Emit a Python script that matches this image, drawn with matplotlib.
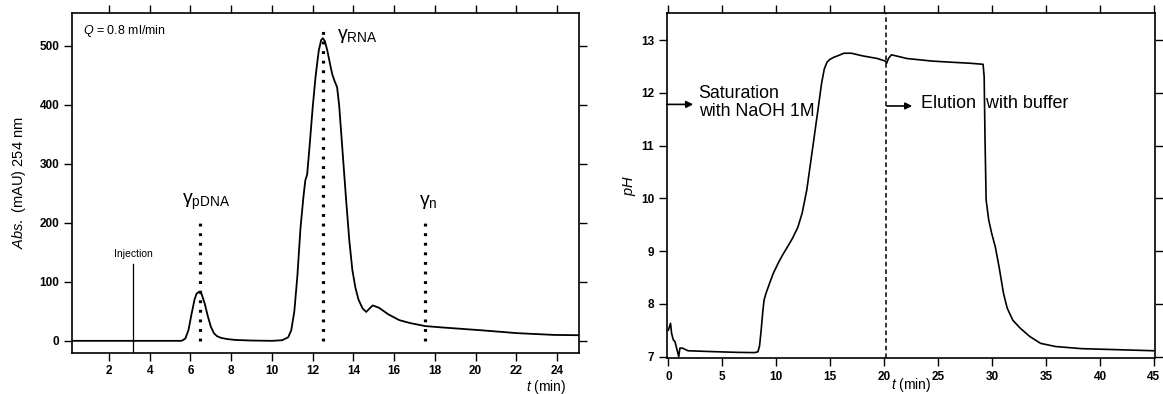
import numpy as np
import matplotlib
matplotlib.use('Agg')
import matplotlib.pyplot as plt

plt.rcParams['font.family'] = ['Liberation Sans', 'DejaVu Sans']
plt.rcParams['mathtext.fontset'] = 'custom'
plt.rcParams['mathtext.rm'] = 'Liberation Sans'
plt.rcParams['mathtext.it'] = 'Liberation Sans:italic'
plt.rcParams['mathtext.bf'] = 'Liberation Sans:bold'

# chromatogram (left panel), t in min, absorbance in mAU
t_abs = [0.2, 3.0, 5.0, 5.5, 5.6, 5.75, 5.9, 6.05, 6.2, 6.3, 6.42, 6.55, 6.7, 6.85, 7.0,
         7.15, 7.3, 7.5, 7.8, 8.2, 9.0, 10.0, 10.5, 10.8, 10.95, 11.1, 11.25, 11.4, 11.55,
         11.64, 11.73, 11.85, 12.0, 12.15, 12.3, 12.42, 12.5, 12.6, 12.72, 12.85, 12.96,
         13.08, 13.2, 13.3, 13.45, 13.63, 13.8, 13.95, 14.1, 14.25, 14.45, 14.63, 14.8,
         14.95, 15.26, 15.71, 16.26, 16.8, 17.53, 18.43, 20.24, 22.05, 23.87, 25.1]
abs_mau = [0, 0, 0, 0, 0.5, 4, 18, 45, 70, 80, 83, 79, 63, 42, 24,
           13, 8, 5, 3, 1.5, 0.5, 0, 1, 6, 18, 50, 110, 190, 245,
           272, 282, 330, 395, 450, 492, 510, 513, 508, 492, 470, 452,
           440, 430, 400, 330, 245, 170, 120, 90, 70, 55, 49, 55,
           60, 56, 45, 35, 30, 25, 22.5, 18, 13, 10, 9.5]

# pH trace (right panel)
t_ph = [0.0, 0.2, 0.3, 0.45, 0.62, 0.8, 0.96, 1.07, 1.3, 1.82, 3.9, 6.3, 8.0, 8.3, 8.45,
        8.6, 8.75, 8.87, 9.05, 9.4, 9.73, 10.2, 10.6, 11.1, 11.5, 12.0, 12.4, 12.83, 13.35,
        13.86, 14.2, 14.45, 14.7, 14.95, 15.3, 15.8, 16.27, 16.96, 18.0, 19.37, 20.12,
        20.23, 20.4, 20.67, 21.1, 22.1, 24.5, 26.2, 27.97, 29.17, 29.27, 29.34, 29.45,
        29.69, 29.96, 30.3, 30.65, 31.06, 31.4, 31.92, 32.6, 33.5, 34.5, 35.9, 38.3,
        41.7, 45.0]
ph = [7.5, 7.63, 7.44, 7.32, 7.28, 7.13, 7.0, 7.16, 7.16, 7.11, 7.095, 7.08, 7.075, 7.09, 7.2,
      7.5, 7.85, 8.07, 8.2, 8.4, 8.58, 8.78, 8.93, 9.1, 9.24, 9.45, 9.72, 10.16, 10.92,
      11.67, 12.18, 12.45, 12.58, 12.63, 12.67, 12.71, 12.75, 12.75, 12.7, 12.65, 12.6,
      12.56, 12.65, 12.72, 12.7, 12.65, 12.6, 12.58, 12.56, 12.54, 12.3, 11.23, 9.97,
      9.59, 9.34, 9.08, 8.7, 8.2, 7.92, 7.69, 7.54, 7.38, 7.25, 7.19, 7.15,
      7.13, 7.11]

peak_t = [6.45, 12.5, 17.5]
peak_top = [200, 525, 200]
t_injection = 3.2
t_switch = 20.2

fig = plt.figure(figsize=(11.63, 3.94), dpi=100)
ax1 = fig.add_axes([0.0617, 0.105, 0.4365, 0.861])
ax2 = fig.add_axes([0.5733, 0.091, 0.4198, 0.877])

for ax in (ax1, ax2):
    ax.tick_params(direction='out', length=5.5, width=1, labelsize=8.5,
                   top=True, right=True, labeltop=False, labelright=False)
    for s in ax.spines.values():
        s.set_linewidth(1.2)

# --- left: chromatogram
ax1.plot(t_abs, abs_mau, color='black', lw=1.3)
for tp, top in zip(peak_t, peak_top):
    ax1.plot([tp, tp], [0, top], color='black', lw=2.3,
             linestyle=(0, (0.9, 2.1)), dash_capstyle='butt')
ax1.plot([t_injection, t_injection], [-20, 130], color='black', lw=0.9)
ax1.text(t_injection, 138, 'Injection', fontsize=7.5, ha='center', va='bottom')
ax1.text(0.7, 525, '$\\it{Q}$ = 0.8 ml/min', fontsize=9, va='center')
ax1.text(5.6, 235, 'γ$_{\\mathrm{pDNA}}$', fontsize=14, va='center')
ax1.text(13.2, 517, 'γ$_{\\mathrm{RNA}}$', fontsize=14, va='center')
ax1.text(17.2, 235, 'γ$_{\\mathrm{n}}$', fontsize=14, va='center')
ax1.set_xlim(0.17, 25.1)
ax1.set_ylim(-20, 555)
ax1.set_xticks(np.arange(2, 25, 2))
ax1.set_yticks([0, 100, 200, 300, 400, 500])
for lab in ax1.get_xticklabels() + ax1.get_yticklabels():
    lab.set_fontweight('bold')
ax1.set_ylabel('$\\it{Abs.}$ (mAU) 254 nm', fontsize=10.5, labelpad=8)
ax1.text(0.975, -0.075, '$\\it{t}$ (min)', transform=ax1.transAxes,
         fontsize=10, ha='right', va='top')

# --- right: pH
ax2.plot(t_ph, ph, color='black', lw=1.2)
ax2.axvline(t_switch, color='black', lw=1.1, linestyle=(0, (3, 2)))
ax2.annotate('', xy=(2.3, 11.78), xytext=(-0.15, 11.78),
             arrowprops=dict(arrowstyle='-|>', lw=1.2, color='black',
                             mutation_scale=10, shrinkA=0, shrinkB=0))
ax2.text(2.8, 11.81, 'Saturation\nwith NaOH 1M', fontsize=12.8, va='center',
         linespacing=1.1)
ax2.annotate('', xy=(22.6, 11.75), xytext=(t_switch + 0.05, 11.75),
             arrowprops=dict(arrowstyle='-|>', lw=1.2, color='black',
                             mutation_scale=10, shrinkA=0, shrinkB=0))
ax2.text(23.4, 11.79, 'Elution  with buffer', fontsize=12.9, va='center')
ax2.set_xlim(-0.15, 45.1)
ax2.set_ylim(6.97, 13.52)
ax2.set_xticks(np.arange(0, 46, 5))
ax2.set_yticks(np.arange(7, 14, 1))
for lab in ax2.get_xticklabels() + ax2.get_yticklabels():
    lab.set_fontweight('bold')
ax2.set_ylabel('$\\it{pH}$', fontsize=10.5, labelpad=2)
ax2.text(0.5, -0.052, '$\\it{t}$ (min)', transform=ax2.transAxes,
         fontsize=10, ha='center', va='top')

fig.savefig('out.png', dpi=100)
